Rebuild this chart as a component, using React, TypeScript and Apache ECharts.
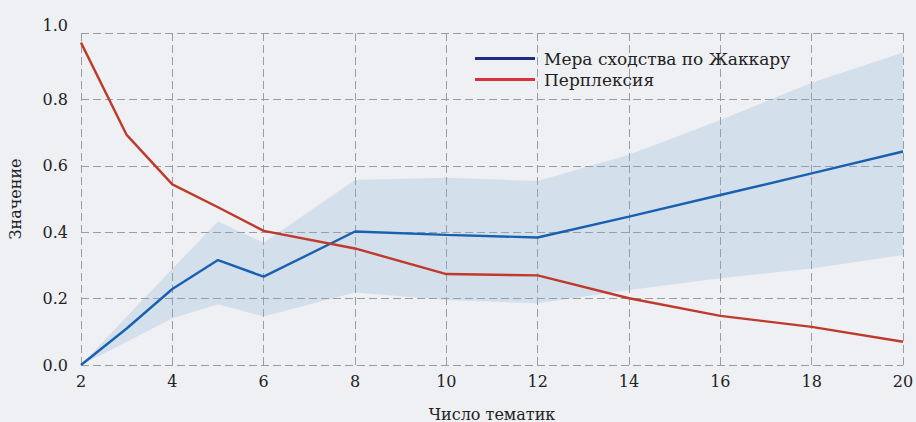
import React, { useEffect, useRef } from "react";
import * as echarts from "echarts";

const xValues = [2, 3, 4, 5, 6, 8, 10, 12, 14, 16, 18, 20];
const jaccard = [0.0, 0.11, 0.229, 0.316, 0.266, 0.402, 0.392, 0.384, 0.447, 0.512, 0.577, 0.643];
const perplexity = [0.971, 0.693, 0.544, 0.475, 0.404, 0.351, 0.274, 0.27, 0.201, 0.148, 0.115, 0.07];
const bandLower = [0.0, 0.07, 0.141, 0.183, 0.146, 0.218, 0.196, 0.186, 0.226, 0.261, 0.291, 0.331];
const bandUpper = [0.0, 0.145, 0.29, 0.432, 0.368, 0.557, 0.564, 0.554, 0.633, 0.738, 0.85, 0.941];

const seriesNames = ["Мера сходства по Жаккару", "Перплексия"];
const xAxisName = "Число тематик";
const yAxisName = "Значение";

const FONT = "DejaVu Serif";

export default function App() {
  const ref = useRef<HTMLDivElement>(null);
  useEffect(() => {
    if (!ref.current) return;
    const chart = echarts.init(ref.current, undefined, { renderer: "svg" });
    const pair = (ys: number[]) => xValues.map((x, i) => [x, ys[i]]);
    const bandData = xValues.map((x, i) => [x, bandLower[i], bandUpper[i]]);
    const gridLine = { show: true, lineStyle: { color: "#9a9ca0", width: 1, type: [8, 4] as any } };
    chart.setOption({
      animation: false,
      backgroundColor: "#eef0f4",
      textStyle: { fontFamily: FONT, color: "#222" },
      grid: { left: 81, right: 13, top: 33, bottom: 57, containLabel: false, outerBoundsMode: "none" },
      legend: {
        orient: "vertical",
        left: 470,
        top: 45,
        itemWidth: 60,
        itemHeight: 3,
        itemGap: 4,
        textStyle: { fontFamily: FONT, fontSize: 17, color: "#222", padding: [0, 0, 0, 4] },
        data: [
          { name: seriesNames[0], icon: "rect", itemStyle: { color: "#1f2d82" } },
          { name: seriesNames[1], icon: "rect", itemStyle: { color: "#d8333a" } },
        ],
      },
      xAxis: {
        type: "value",
        min: 2,
        max: 20,
        interval: 2,
        name: xAxisName,
        nameLocation: "middle",
        nameGap: 41,
        nameTextStyle: { fontFamily: FONT, fontSize: 16, color: "#222" },
        axisLine: { show: false },
        axisTick: { show: false },
        axisLabel: { fontFamily: FONT, fontSize: 16, color: "#222", margin: 8 },
        splitLine: gridLine,
      },
      yAxis: {
        type: "value",
        min: 0,
        max: 1,
        interval: 0.2,
        name: yAxisName,
        nameLocation: "middle",
        nameGap: 58,
        nameTextStyle: { fontFamily: FONT, fontSize: 16, color: "#222" },
        axisLine: { show: false },
        axisTick: { show: false },
        axisLabel: {
          fontFamily: FONT,
          fontSize: 16,
          color: "#222",
          margin: 13,
          formatter: (v: number) => v.toFixed(1),
          verticalAlignMaxLabel: "bottom",
        },
        splitLine: gridLine,
      },
      series: [
        {
          name: "band",
          type: "custom",
          data: bandData,
          encode: { x: 0, y: [1, 2] },
          silent: true,
          z: 1,
          renderItem: (params: any, api: any) => {
            if (params.dataIndex !== 0) return null;
            const top: number[][] = [];
            const bottom: number[][] = [];
            for (let i = 0; i < bandData.length; i++) {
              top.push(api.coord([bandData[i][0], bandData[i][2]]));
              bottom.push(api.coord([bandData[i][0], bandData[i][1]]));
            }
            const pts = top.concat(bottom.reverse());
            return {
              type: "polygon",
              shape: { points: pts },
              style: { fill: "rgba(130,176,212,0.25)" },
            };
          },
        },
        {
          name: seriesNames[0],
          type: "line",
          data: pair(jaccard),
          symbol: "none",
          lineStyle: { color: "#1a60b0", width: 2.4 },
          itemStyle: { color: "#1a60b0" },
          z: 5,
        },
        {
          name: seriesNames[1],
          type: "line",
          data: pair(perplexity),
          symbol: "none",
          lineStyle: { color: "#c03a2b", width: 2.4 },
          itemStyle: { color: "#c03a2b" },
          z: 5,
        },
      ],
    });
    return () => chart.dispose();
  }, []);
  return <div ref={ref} style={{ width: 916, height: 422, position: "absolute", left: 0, top: 0 }} />;
}
